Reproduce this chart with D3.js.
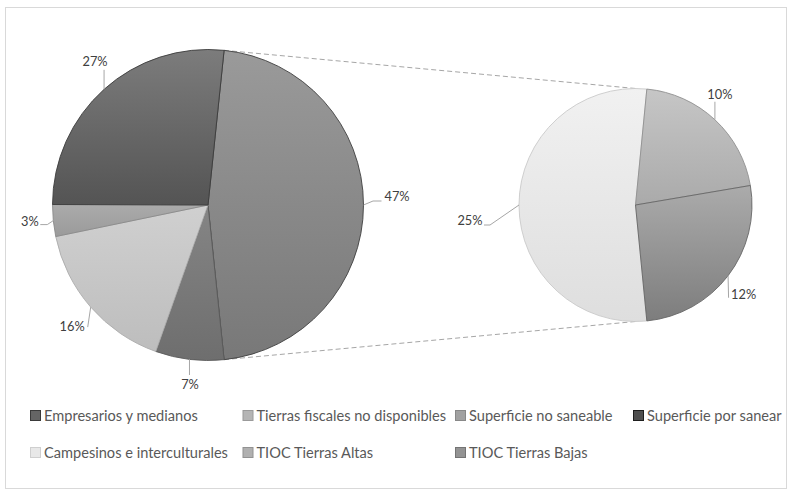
<!DOCTYPE html>
<html>
<head>
<meta charset="utf-8">
<script src="https://cdn.jsdelivr.net/npm/d3@7/dist/d3.min.js"></script>
<style>
  html, body { margin: 0; padding: 0; background: #ffffff; }
  svg { display: block; }
  text { font-family: Lato, "Open Sans", sans-serif; }
</style>
</head>
<body>
<svg id="chart" width="792" height="495"></svg>
<script>
// Land categories; the last three are broken out into the secondary pie
const categories = [
  "Empresarios y medianos",
  "Tierras fiscales no disponibles",
  "Superficie no saneable",
  "Superficie por sanear",
  "Campesinos e interculturales",
  "TIOC Tierras Altas",
  "TIOC Tierras Bajas"
];
// Share of total surface (%)
const values = [26.6, 3.3, 16.3, 7.1, 24.8, 9.7, 12.2];
const secondaryCount = 3;

// Fill gradients (top, bottom) and outline per category
const sliceTop    = ["#7c7c7c", "#ababab", "#d0d0d0", "#858585", "#f1f1f1", "#c6c6c6", "#ababab"];
const sliceBottom = ["#545454", "#9a9a9a", "#bdbdbd", "#6e6e6e", "#dedede", "#aaaaaa", "#7d7d7d"];
const sliceEdge   = ["#3c3c3c", "#8a8a8a", "#acacac", "#5a5a5a", "#c9c9c9", "#909090", "#666666"];
const legendFill  = ["#656565", "#b5b5b5", "#a1a1a1", "#4f4f4f", "#e8e8e8", "#b0b0b0", "#939393"];
const legendEdge  = ["#3a3a3a", "#9a9a9a", "#888888", "#1e1e1e", "#cfcfcf", "#929292", "#747474"];
// Combined "other" slice of the main pie
const otherTop = "#9a9a9a", otherBottom = "#787878", otherEdge = "#3e3e3e";

const svg = d3.select("#chart");
const defs = svg.append("defs");

// chart frame
svg.append("rect")
  .attr("x", 5.5).attr("y", 7.5).attr("width", 781).attr("height", 481)
  .attr("fill", "#ffffff").attr("stroke", "#d9d9d9").attr("stroke-width", 1);

function gradient(id, top, bottom) {
  const g = defs.append("linearGradient").attr("id", id)
    .attr("x1", 0).attr("y1", 0).attr("x2", 0).attr("y2", 1);
  g.append("stop").attr("offset", "0%").attr("stop-color", top);
  g.append("stop").attr("offset", "100%").attr("stop-color", bottom);
  return `url(#${id})`;
}

const pct = d3.format(".0%");
const total = d3.sum(values);
const nMain = categories.length - secondaryCount;
const otherValue = d3.sum(values.slice(nMain));

// ---- main pie ----
const main = { cx: 208, cy: 205, r: 155.5 };
// clockwise from the combined slice, which is centred at 3 o'clock
const mainData = [{ key: "other", value: otherValue, idx: -1 }]
  .concat(d3.range(nMain - 1, -1, -1).map(i => ({ key: categories[i], value: values[i], idx: i })));
const otherAngle = otherValue / total * 2 * Math.PI;
const mainStart = Math.PI / 2 - otherAngle / 2;
const mainArcs = d3.pie().sort(null).value(d => d.value)
  .startAngle(mainStart).endAngle(mainStart + 2 * Math.PI)(mainData);

// ---- secondary pie ----
const sec = { cx: 635.5, cy: 205, r: 116.5 };
const secData = d3.range(nMain, categories.length).map(i => ({ key: categories[i], value: values[i], idx: i }));
const firstAngle = secData[0].value / otherValue * 2 * Math.PI;
const secStart = 1.5 * Math.PI - firstAngle / 2;
const secArcs = d3.pie().sort(null).value(d => d.value)
  .startAngle(secStart).endAngle(secStart + 2 * Math.PI)(secData);

function polar(c, a, r) { return [c.cx + r * Math.sin(a), c.cy - r * Math.cos(a)]; }

// connector lines between the combined slice and the secondary pie
const otherArc = mainArcs[0];
const connectors = [
  [polar(main, otherArc.startAngle, main.r), [sec.cx, sec.cy - sec.r]],
  [polar(main, otherArc.endAngle, main.r), [sec.cx, sec.cy + sec.r]]
];
svg.append("g").selectAll("line").data(connectors).join("line")
  .attr("x1", d => d[0][0]).attr("y1", d => d[0][1])
  .attr("x2", d => d[1][0]).attr("y2", d => d[1][1])
  .attr("stroke", "#a6a6a6").attr("stroke-width", 1)
  .attr("stroke-dasharray", "5,3");

function drawPie(c, arcs, prefix) {
  const arc = d3.arc().innerRadius(0).outerRadius(c.r);
  const g = svg.append("g").attr("transform", `translate(${c.cx},${c.cy})`);
  g.selectAll("path").data(arcs).join("path")
    .attr("d", arc)
    .attr("fill", (d, k) => d.data.idx < 0
      ? gradient(prefix + "o", otherTop, otherBottom)
      : gradient(prefix + k, sliceTop[d.data.idx], sliceBottom[d.data.idx]))
    .attr("stroke", d => d.data.idx < 0 ? otherEdge : sliceEdge[d.data.idx])
    .attr("stroke-width", 0.9)
    .attr("stroke-linejoin", "round");
}
drawPie(main, mainArcs, "gm");
drawPie(sec, secArcs, "gs");

// data labels with leader lines; offsets are relative to the slice's outer mid-point
const labelLayout = {
  "other":                          { path: [[9.5, -4], [18, -4]], text: [21, -4], anchor: "start" },
  "Superficie por sanear":          { path: [[0, 15.6]], text: [0.5, 29.5], anchor: "middle" },
  "Superficie no saneable":         { path: [[-3, 20]], text: [-6, 24], anchor: "end" },
  "Tierras fiscales no disponibles":{ path: [[-6, 4], [-13, 4]], text: [-14.5, 5], anchor: "end" },
  "Empresarios y medianos":         { path: [[0, -19.5]], text: [-9, -23], anchor: "middle" },
  "Campesinos e interculturales":   { path: [[-29, 20], [-35, 20]], text: [-36.5, 20], anchor: "end" },
  "TIOC Tierras Altas":             { path: [[0, -18]], text: [5, -20.5], anchor: "middle" },
  "TIOC Tierras Bajas":             { path: [[0.5, 22]], text: [3, 23], anchor: "start" }
};

function drawLabels(c, arcs) {
  const g = svg.append("g");
  arcs.forEach(a => {
    const mid = (a.startAngle + a.endAngle) / 2;
    const p = polar(c, mid, c.r);
    const lay = labelLayout[a.data.key];
    const pts = [p].concat(lay.path.map(o => [p[0] + o[0], p[1] + o[1]]));
    g.append("path")
      .attr("d", d3.line()(pts))
      .attr("fill", "none").attr("stroke", "#a6a6a6").attr("stroke-width", 1);
    g.append("text")
      .attr("x", p[0] + lay.text[0]).attr("y", p[1] + lay.text[1])
      .attr("text-anchor", lay.anchor)
      .attr("font-size", 12.8).attr("fill", "#404040")
      .text(pct(a.data.value / total));
  });
}
drawLabels(main, mainArcs);
drawLabels(sec, secArcs);

// ---- legend ----
const legendCols = [30.5, 243, 455.5, 633.5];
const legendRows = [410.5, 447.5];
const legend = svg.append("g");
categories.forEach((name, i) => {
  const col = i < 4 ? i : i - 4;
  const row = i < 4 ? 0 : 1;
  const x = legendCols[col], y = legendRows[row];
  legend.append("rect")
    .attr("x", x).attr("y", y).attr("width", 10).attr("height", 10)
    .attr("fill", legendFill[i]).attr("stroke", legendEdge[i]).attr("stroke-width", 1);
  legend.append("text")
    .attr("x", x + 13.5).attr("y", y + 10.5)
    .attr("font-size", 14.6).attr("fill", "#595959")
    .text(name);
});
</script>
</body>
</html>
